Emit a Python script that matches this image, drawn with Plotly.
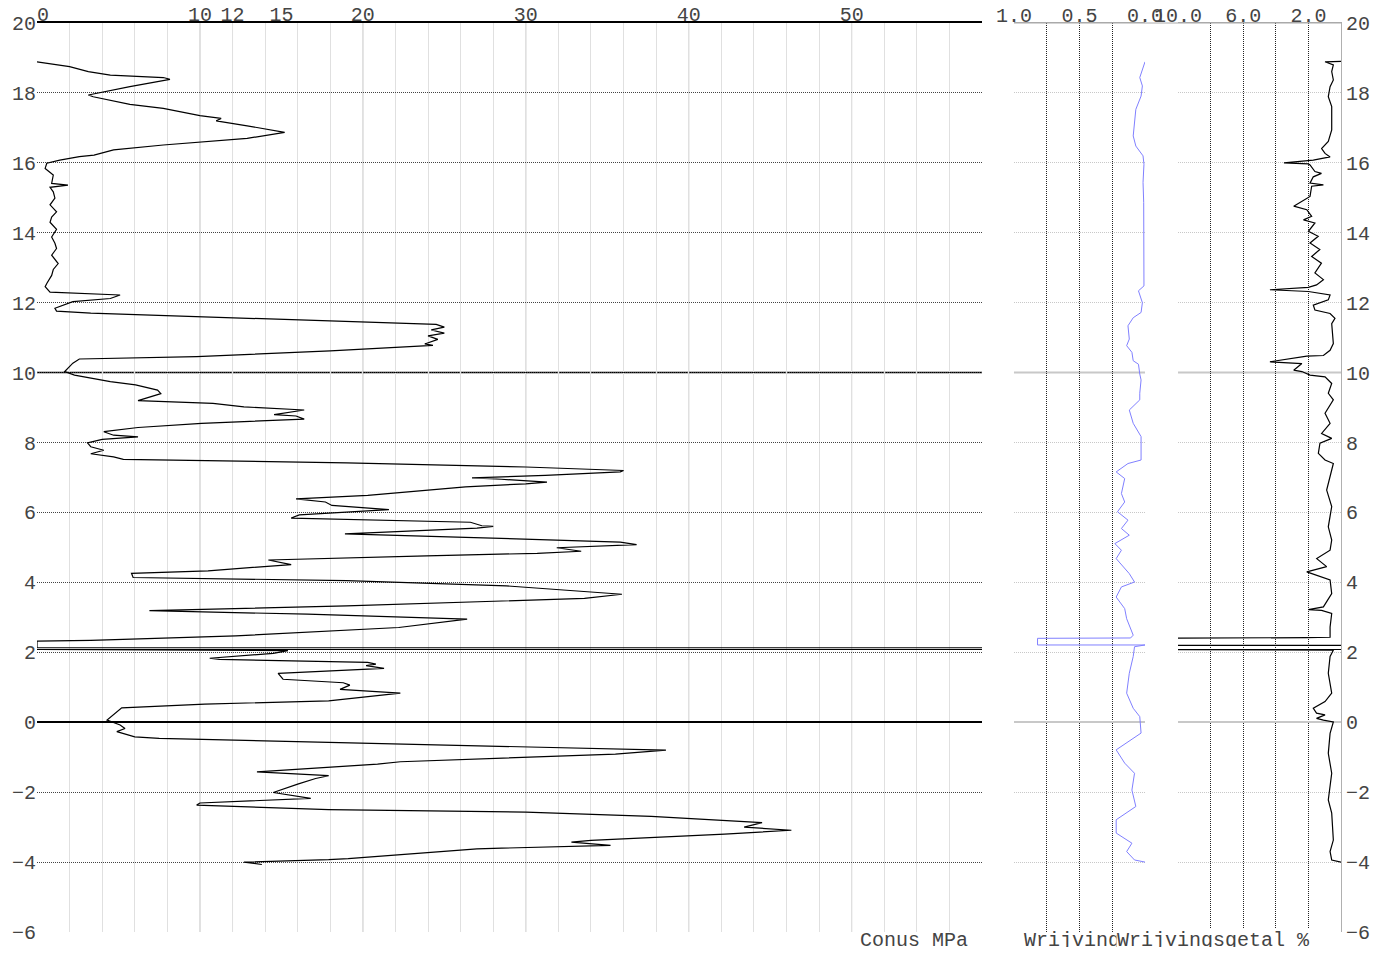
import plotly.graph_objects as go

# --- Data (depth in m NAP) ---
CONE_DEPTH = [18.89, 18.75, 18.61, 18.51, 18.44, 18.39, 18.18, 17.94, 17.89, 17.67, 17.56, 17.35, 17.27, 17.20,
              17.06, 16.87, 16.70, 16.59, 16.51, 16.37, 16.26, 16.22, 16.18, 16.08, 15.99, 15.84, 15.65, 15.41,
              15.36, 15.30, 15.17, 14.99, 14.80, 14.60, 14.45, 14.30, 14.10, 13.88, 13.70, 13.55, 13.36, 13.12,
              12.95, 12.78, 12.55, 12.46, 12.30, 12.24, 12.22, 12.12, 12.03, 11.84, 11.76, 11.70, 11.60, 11.49,
              11.38, 11.30, 11.22, 11.13, 11.05, 10.95, 10.82, 10.78, 10.62, 10.46, 10.39, 10.27, 10.03, 9.93,
              9.74, 9.65, 9.50, 9.40, 9.36, 9.20, 9.12, 9.02, 8.93, 8.80, 8.76, 8.67, 8.55, 8.43, 8.31, 8.21,
              8.16, 8.09, 7.99, 7.88, 7.78, 7.68, 7.59, 7.52, 7.42, 7.30, 7.20, 7.16, 7.06, 6.99, 6.95, 6.87,
              6.82, 6.73, 6.49, 6.39, 6.30, 6.20, 6.08, 6.01, 5.93, 5.84, 5.72, 5.62, 5.60, 5.55, 5.39, 5.29,
              5.15, 5.08, 5.05, 4.99, 4.89, 4.83, 4.76, 4.64, 4.51, 4.33, 4.26, 4.14, 4.05, 3.90, 3.66, 3.54,
              3.33, 3.19, 3.09, 2.95, 2.71, 2.47, 2.34, 2.32, 2.13, 2.13, 2.08, 2.08, 2.05, 1.97, 1.83, 1.80,
              1.71, 1.66, 1.62, 1.54, 1.40, 1.23, 1.13, 1.06, 0.94, 0.83, 0.61, 0.52, 0.41, 0.30, 0.14, 0.06,
              -0.08, -0.18, -0.27, -0.42, -0.46, -0.61, -0.70, -0.80, -0.91, -1.01, -1.13, -1.20, -1.42, -1.53,
              -1.61, -1.77, -2.01, -2.18, -2.31, -2.37, -2.50, -2.57, -2.69, -2.87, -3.00, -3.09, -3.20, -3.38,
              -3.43, -3.52, -3.62, -3.90, -3.93, -4.00, -4.07]
CONE_MPA = [0.0, 2.0, 3.15, 4.5, 7.75, 8.16, 5.7, 3.15, 3.45, 5.7, 7.75, 10.0, 11.3, 11.0,
            12.9, 15.2, 12.9, 10.0, 7.75, 4.7, 3.9, 3.5, 2.6, 1.4, 0.6, 0.5, 1.0, 0.9,
            1.9, 0.8, 1.0, 1.1, 0.8, 1.2, 0.9, 0.8, 1.2, 0.9, 1.1, 1.2, 0.9, 1.3,
            1.0, 0.9, 0.6, 0.5, 0.8, 4.5, 5.1, 4.5, 2.2, 1.1, 1.2, 3.3, 9.8, 18.0,
            24.5, 25.0, 24.2, 25.0, 24.0, 24.6, 23.8, 24.3, 18.0, 9.8, 2.6, 2.2, 1.7, 2.3,
            4.5, 6.05, 7.4, 7.6, 7.3, 6.2, 10.8, 12.7, 16.4, 14.55, 15.9, 16.4, 10.1, 6.2, 4.1, 4.7,
            6.2, 4.0, 3.1, 3.3, 4.1, 3.3, 4.7, 5.3, 19.0, 30.0, 36.0, 35.8, 31.2, 26.7, 28.5, 31.3,
            30.0, 26.3, 20.3, 15.9, 17.7, 18.1, 21.6, 19.0, 16.1, 15.6, 26.6, 27.3, 28.0, 27.0, 18.9, 26.3,
            35.8, 36.8, 35.0, 31.9, 33.4, 30.7, 23.9, 14.2, 15.6, 10.5, 5.8, 5.9, 19.0, 28.8, 35.9, 33.6,
            19.0, 6.9, 16.6, 26.4, 22.2, 12.2, 3.3, 0.0, 0.0, 70.0, 70.0, 0.0, 15.4, 14.5, 10.6, 11.2,
            20.3, 20.8, 20.2, 21.3, 14.8, 15.1, 18.8, 19.2, 18.6, 22.3, 17.9, 10.3, 5.2, 4.9, 4.5, 4.3,
            5.1, 5.4, 4.9, 6.0, 7.5, 20.9, 30.0, 38.6, 35.5, 30.0, 22.3, 20.9, 13.5, 17.9,
            17.1, 16.0, 14.5, 16.8, 10.0, 9.8, 17.9, 30.0, 37.7, 44.5, 43.4, 46.3, 42.2, 34.0,
            32.8, 35.2, 27.0, 19.1, 17.9, 12.7, 13.8]

FRIC_DEPTH = [18.89, 18.68, 18.44, 18.20, 17.91, 17.53, 17.20, 16.77, 16.48, 16.20, 15.96, 15.44, 14.87, 14.01,
              12.96, 12.48, 12.34, 12.00, 11.72, 11.57, 11.34, 10.96, 10.77, 10.58, 10.34, 10.24, 9.96, 9.79,
              9.41, 9.22, 8.93, 8.55, 8.17, 7.50, 7.40, 7.16, 6.97, 6.54, 6.30, 6.02, 5.78, 5.54, 5.35, 5.11,
              4.92, 4.68, 4.25, 4.01, 3.87, 3.58, 3.25, 2.96, 2.49, 2.41, 2.40, 2.21, 2.21, 2.16, 1.88, 1.40,
              0.83, 0.40, 0.16, -0.31, -0.79, -1.17, -1.46, -1.94, -2.41, -2.79, -3.17, -3.46, -3.70, -3.94, -4.00]
FRIC_MPA = [0.0, 0.02, 0.04, 0.02, 0.03, 0.07, 0.08, 0.09, 0.07, 0.015, 0.008, 0.015, 0.01, 0.008,
            0.01, 0.008, 0.05, 0.02, 0.03, 0.09, 0.13, 0.12, 0.14, 0.10, 0.09, 0.05, 0.04, 0.03,
            0.04, 0.04, 0.12, 0.09, 0.03, 0.03, 0.13, 0.22, 0.155, 0.18, 0.155, 0.21, 0.13, 0.18, 0.12, 0.23,
            0.18, 0.22, 0.12, 0.08, 0.18, 0.22, 0.155, 0.14, 0.09, 0.11, 0.82, 0.82, 0.0, 0.08, 0.09, 0.12,
            0.14, 0.09, 0.04, 0.03, 0.22, 0.155, 0.08, 0.10, 0.07, 0.22, 0.22, 0.10, 0.14, 0.08, 0.0]

RATIO_DEPTH = [18.90, 18.89, 18.80, 18.61, 18.37, 18.18, 17.89, 17.61, 16.94, 16.61, 16.41, 16.27, 16.17, 16.08,
               16.00, 15.97, 15.94, 15.75, 15.70, 15.60, 15.42, 15.37, 15.33, 15.04, 14.76, 14.66, 14.47, 14.37,
               14.28, 14.04, 13.90, 13.71, 13.52, 13.32, 13.13, 12.85, 12.66, 12.51, 12.44, 12.37, 12.32, 12.22,
               12.08, 11.93, 11.79, 11.69, 11.55, 11.40, 10.83, 10.64, 10.49, 10.47, 10.31, 10.26, 10.07, 10.03,
               9.93, 9.88, 9.69, 9.41, 9.22, 8.84, 8.55, 8.26, 8.12, 7.98, 7.69, 7.50, 7.40, 7.02, 6.64, 6.17,
               5.59, 5.21, 4.92, 4.68, 4.45, 4.30, 4.16, 4.07, 3.68, 3.30, 3.22, 3.20, 3.11, 2.72, 2.43, 2.42,
               2.40, 2.20, 2.20, 2.08, 2.08, 2.06, 1.88, 1.40, 0.83, 0.59, 0.40, 0.26, 0.21, 0.11, 0.06, 0.01,
               -0.32, -0.89, -1.46, -2.22, -2.60, -3.37, -3.70, -3.94, -4.00]
RATIO_PCT = [0.0, 0.98, 0.47, 0.57, 0.47, 0.67, 0.78, 0.57, 0.57, 0.78, 1.19, 0.98, 0.67, 1.7,
             3.5, 2.0, 1.9, 1.6, 1.2, 1.7, 1.9, 1.08, 1.8, 1.9, 2.9, 2.1, 1.8, 2.3,
             1.6, 2.0, 1.4, 1.9, 1.3, 1.8, 1.2, 1.6, 1.08, 1.5, 2.0, 4.36, 2.0, 0.67,
             0.78, 1.7, 1.6, 0.67, 0.37, 0.57, 0.47, 0.67, 1.08, 2.1, 4.36, 2.4, 2.9, 2.4,
             1.9, 0.98, 0.57, 0.78, 0.47, 0.98, 0.67, 1.19, 0.57, 1.29, 1.39, 0.98, 0.47, 0.67, 0.88, 0.57,
             0.78, 0.57, 0.67, 1.49, 0.88, 2.1, 1.29, 0.67, 0.57, 1.08, 2.0, 1.19, 0.57, 0.67, 0.67, 2.1,
             12.0, 12.0, -0.5, -0.5, 12.0, 0.47, 0.67, 0.78, 0.57, 0.98, 1.7, 1.5, 0.98, 1.5, 1.08, 0.47,
             0.67, 0.78, 0.57, 0.78, 0.57, 0.47, 0.67, 0.57, 0.0]

CONE_TICKS = [0, 10, 12, 15, 20, 30, 40, 50]
CONE_GRID = [10, 12, 20, 30, 40, 50]
FRIC_TICKS = [1.0, 0.5, 0.0]
RATIO_TICKS = [10.0, 6.0, 2.0]
DATUM_LINES = [10, 0]

# --- Style ---
FONT = "Liberation Mono"
TEXT_COLOR = "#444"
LIGHT_GRID = "#e0e0e0"
MID_GRID = "#b8b8b8"
PALE = "#c8c8c8"

# the "0" label sits just right of the corner, clear of the depth label "20"
cone_ticktext = ["\u00a00" if t == 0 else str(t) for t in CONE_TICKS]

fig = go.Figure()

fig.add_trace(go.Scatter(x=CONE_MPA, y=CONE_DEPTH, mode="lines",
                         line=dict(color="black", width=1.2), xaxis="x", yaxis="y"))
fig.add_trace(go.Scatter(x=FRIC_MPA, y=FRIC_DEPTH, mode="lines",
                         line=dict(color="#8080ff", width=1), xaxis="x2", yaxis="y2"))
fig.add_trace(go.Scatter(x=RATIO_PCT, y=RATIO_DEPTH, mode="lines",
                         line=dict(color="black", width=1.2), xaxis="x3", yaxis="y3"))

tickfont = dict(family=FONT, size=20, color=TEXT_COLOR)
depth_axis = dict(range=[-6, 20], dtick=2, tick0=0, ticks="", tickfont=tickfont, automargin=False)
top_axis = dict(side="top", ticks="", tickfont=tickfont, ticklabelstandoff=-8,
                zeroline=False, automargin=False)

fig.update_layout(
    width=1368, height=939,
    paper_bgcolor="white", plot_bgcolor="white",
    margin=dict(l=29, r=35, t=15, b=15, autoexpand=False),
    showlegend=False,
    font=dict(family=FONT, size=20, color=TEXT_COLOR),
    # main cone panel
    xaxis=dict(domain=[0, 0.7247], range=[0, 58], anchor="y",
               tickvals=CONE_TICKS, ticktext=cone_ticktext, showgrid=False,
               minor=dict(dtick=2, tick0=0, showgrid=True, gridcolor=LIGHT_GRID, gridwidth=1),
               showline=True, linecolor="black", linewidth=2, **top_axis),
    yaxis=dict(domain=[0, 1], anchor="x", side="left", showgrid=True, showline=False,
               gridcolor="#444", griddash="1px,1px", gridwidth=1,
               zeroline=True, zerolinecolor="black", zerolinewidth=1.5, **depth_axis),
    # friction panel
    xaxis2=dict(domain=[0.7492, 0.8497], range=[1.0, 0.0], anchor="y2",
                tickvals=FRIC_TICKS, tickformat=".1f",
                showgrid=True, gridcolor="#222", griddash="1px,1px",
                minor=dict(dtick=0.25, showgrid=True, gridcolor="#222", griddash="1px,1px"),
                showline=True, linecolor="#aaa", linewidth=1, **top_axis),
    yaxis2=dict(domain=[0, 1], anchor="x2", matches="y", showticklabels=False, showline=False,
                showgrid=True, gridcolor=PALE, griddash="1px,1px",
                zeroline=True, zerolinecolor=PALE, zerolinewidth=2, **depth_axis),
    # friction ratio panel
    xaxis3=dict(domain=[0.875, 1.0], range=[10, 0], anchor="y3",
                tickvals=RATIO_TICKS, tickformat=".1f",
                showgrid=True, gridcolor="#222", griddash="1px,1px",
                minor=dict(dtick=2, showgrid=True, gridcolor="#222", griddash="1px,1px"),
                showline=True, linecolor="#aaa", linewidth=1, **top_axis),
    yaxis3=dict(domain=[0, 1], anchor="x3", side="right", matches="y", showticklabels=True,
                showgrid=True, gridcolor=PALE, griddash="1px,1px",
                zeroline=True, zerolinecolor=PALE, zerolinewidth=2,
                showline=True, linecolor="#b0b0b0", linewidth=1, **depth_axis),
)

# darker verticals at the labelled cone values
for v in CONE_GRID:
    fig.add_shape(type="line", xref="x", yref="y domain", x0=v, x1=v, y0=0, y1=1,
                  line=dict(color=MID_GRID, width=1), layer="below")

# solid datum line at 10 m on each panel; 0 comes from the zero lines
for lvl in DATUM_LINES:
    if lvl == 0:
        continue
    fig.add_shape(type="line", xref="x domain", yref="y", x0=0, x1=1, y0=lvl, y1=lvl,
                  line=dict(color="black", width=1.5), layer="below")
    for xr, yr in (("x2 domain", "y2"), ("x3 domain", "y3")):
        fig.add_shape(type="line", xref=xr, yref=yr, x0=0, x1=1, y0=lvl, y1=lvl,
                      line=dict(color=PALE, width=2), layer="below")

# top border running across both right panels
fig.add_shape(type="line", xref="paper", yref="paper", x0=0.7492, x1=1.0, y0=1, y1=1,
              line=dict(color="#aaa", width=1))

# axis titles at the bottom
title_y = -0.009
fig.add_annotation(text="Conus MPa", xref="paper", yref="paper", x=0.7155, y=title_y,
                   xanchor="right", yanchor="middle", showarrow=False,
                   font=dict(family=FONT, size=20, color=TEXT_COLOR))
fig.add_annotation(text="Wrijvingsweerstand MPa", xref="paper", yref="paper", x=0.7554, y=title_y,
                   xanchor="left", yanchor="middle", showarrow=False,
                   font=dict(family=FONT, size=20, color=TEXT_COLOR))
fig.add_annotation(text="Wrijvingsgetal %", xref="paper", yref="paper", x=0.8272, y=title_y,
                   xanchor="left", yanchor="middle", showarrow=False, bgcolor="white", borderpad=0,
                   font=dict(family=FONT, size=20, color=TEXT_COLOR))

fig.write_html("out.html")
